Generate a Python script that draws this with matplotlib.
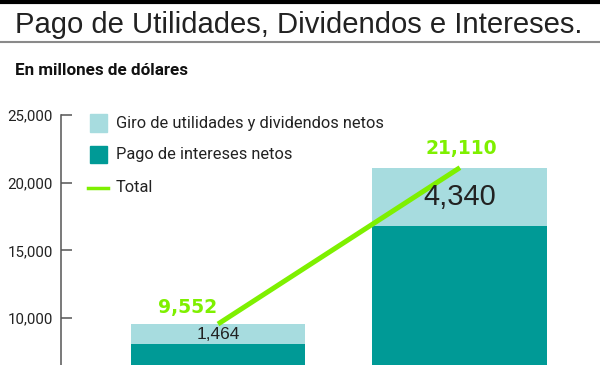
import matplotlib
matplotlib.use('Agg')
import matplotlib.pyplot as plt
from matplotlib.patches import Rectangle
from matplotlib.lines import Line2D

# data
periodos = ["Periodo 1", "Periodo 2"]
intereses = [8088, 16770]      # Pago de intereses netos
utilidades = [1464, 4340]      # Giro de utilidades y dividendos netos
totales = [9552, 21110]
yticks = [10000, 15000, 20000, 25000]

C_DARK = '#009a96'
C_LIGHT = '#a7dcdf'
C_GREEN = '#7ef000'
NARROW = ['Roboto', 'DejaVu Sans']
HELV = ['Liberation Sans', 'DejaVu Sans']

W, H = 600, 365
fig = plt.figure(figsize=(W / 100, H / 100), dpi=100)
renderer = fig.canvas.get_renderer()


def fx(px):
    return px / W


def fy(py):
    return 1 - py / H


def fit_width(txt, target_px):
    # scale the font so the text spans about target_px (no condensed fonts here)
    w = txt.get_window_extent(renderer).width
    txt.set_fontsize(txt.get_fontsize() * target_px / w)


# header lines and titles
fig.add_artist(Line2D([0, 1], [fy(1.5), fy(1.5)], color='black', lw=3, transform=fig.transFigure))
fig.add_artist(Line2D([0, 1], [fy(42), fy(42)], color='#8a8a8a', lw=1.5, transform=fig.transFigure))
t = fig.text(fx(15), fy(33), "Pago de Utilidades, Dividendos e Intereses.", fontsize=20.5,
             family=HELV, color='#222222', va='baseline', ha='left')
fit_width(t, 567)
t = fig.text(fx(15), fy(75), "En millones de dólares", fontsize=11, fontweight='bold',
             family=NARROW, color='#111111', va='baseline', ha='left')
fit_width(t, 173)

# axes: left spine at x=61px, 25,000 at y=115px, figure bottom cuts the bars
ax = fig.add_axes([fx(61), 0, 1 - fx(61), fy(115)])
x = list(range(len(periodos)))
bw = 0.723
ax.bar(x, intereses, width=bw, color=C_DARK, zorder=2)
ax.bar(x, utilidades, width=bw, bottom=intereses, color=C_LIGHT, zorder=2)
ax.plot(x, totales, color=C_GREEN, lw=3.6, solid_capstyle='butt', zorder=3)

ax.set_xlim(-0.649, 1.579)
ax.set_ylim(6525, 25000)
ax.set_yticks(yticks)
ax.set_yticklabels([f"{v:,}" for v in yticks], family=NARROW, fontsize=12, color='#222222')
ax.tick_params(axis='y', direction='in', length=8, width=1.1, color='#555555', pad=6)
ax.set_xticks([])
for s in ['top', 'right', 'bottom']:
    ax.spines[s].set_visible(False)
ax.spines['left'].set_color('#555555')
ax.spines['left'].set_linewidth(1.1)
fig.canvas.draw()
lab0 = ax.get_yticklabels()[-1]
scale = 45 / lab0.get_window_extent(renderer).width
for lab in ax.get_yticklabels():
    lab.set_fontsize(lab.get_fontsize() * scale)

# value labels
ax.annotate(f"{totales[0]:,}", (x[0], totales[0]), xytext=(-22, 12), textcoords='offset points',
            ha='center', va='center', fontsize=13.5, fontweight='bold', color=C_GREEN,
            family='DejaVu Sans', annotation_clip=False)
ax.annotate(f"{totales[1]:,}", (x[1], totales[1]), xytext=(1, 14), textcoords='offset points',
            ha='center', va='center', fontsize=13.5, fontweight='bold', color=C_GREEN,
            family='DejaVu Sans', annotation_clip=False)
ax.text(x[0], intereses[0] + utilidades[0] * 0.45, f"{utilidades[0]:,}", ha='center', va='center',
        fontsize=12.5, color='#222222', family=HELV, zorder=4)
ax.text(x[1], intereses[1] + utilidades[1] * 0.5, f"{utilidades[1]:,}", ha='center', va='center',
        fontsize=21, color='#222222', family=HELV, zorder=4)

# legend drawn by hand to match the layout
leg_items = [("Giro de utilidades y dividendos netos", 'sq', C_LIGHT, 123, 269),
             ("Pago de intereses netos", 'sq', C_DARK, 154, 174),
             ("Total", 'ln', C_GREEN, 188, 35)]
for label, kind, col, yc, wpx in leg_items:
    if kind == 'sq':
        fig.add_artist(Rectangle((fx(90), fy(yc + 8.5)), 17 / W, 17 / H, color=col,
                                 transform=fig.transFigure))
    else:
        fig.add_artist(Line2D([fx(88), fx(108)], [fy(yc), fy(yc)], color=col, lw=2.5,
                              transform=fig.transFigure))
    t = fig.text(fx(116), fy(yc), label, fontsize=14, family=NARROW, color='#222222',
                 va='center', ha='left')
    if kind == 'sq' and wpx > 200:
        fit_width(t, wpx)
        leg_size = t.get_fontsize()
for t in fig.texts[-3:]:
    t.set_fontsize(leg_size)

fig.savefig('out.png', dpi=100)
